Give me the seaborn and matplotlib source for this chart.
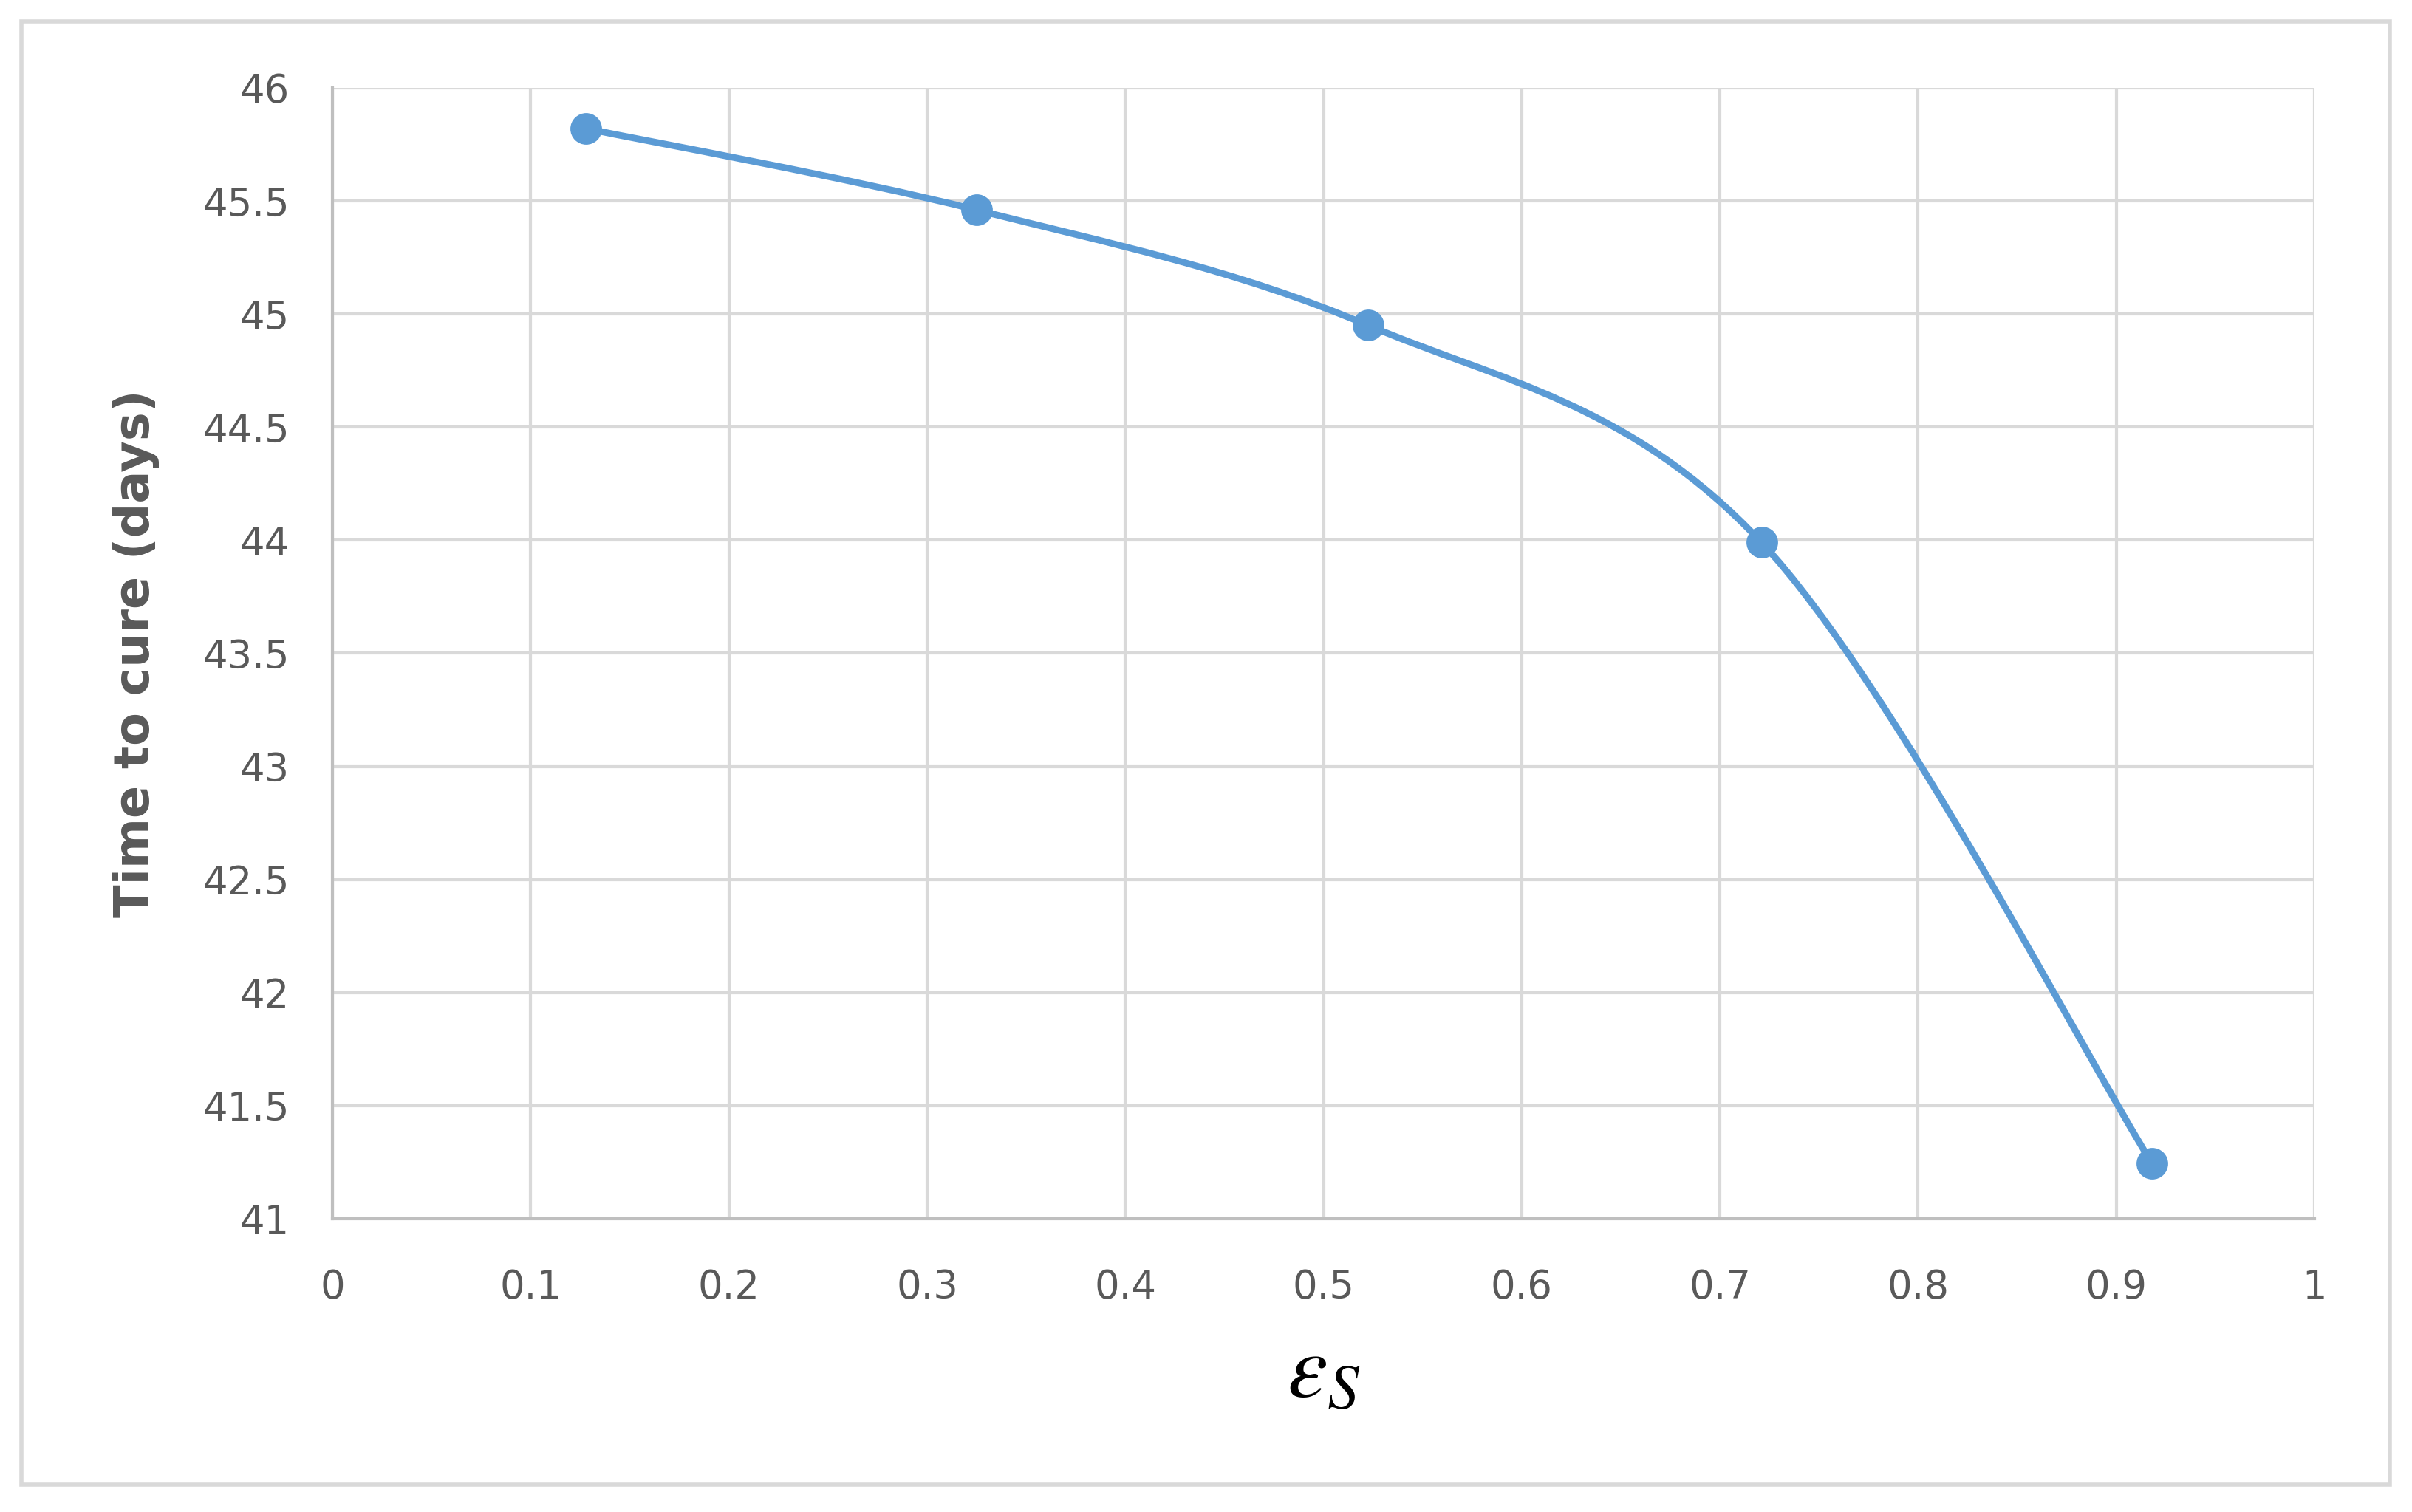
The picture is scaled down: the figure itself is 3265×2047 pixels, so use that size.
import numpy as np
import matplotlib
matplotlib.use("Agg")
import matplotlib.pyplot as plt
from matplotlib.path import Path
from matplotlib.patches import PathPatch, Rectangle
import seaborn as sns

# data
eps_s = [0.128, 0.325, 0.5225, 0.721, 0.918]
cure_days = [45.82, 45.46, 44.95, 43.99, 41.245]

x_ticks = [0, 0.1, 0.2, 0.3, 0.4, 0.5, 0.6, 0.7, 0.8, 0.9, 1]
x_labels = ["0", "0.1", "0.2", "0.3", "0.4", "0.5", "0.6", "0.7", "0.8", "0.9", "1"]
y_ticks = [41, 41.5, 42, 42.5, 43, 43.5, 44, 44.5, 45, 45.5, 46]
y_labels = ["41", "41.5", "42", "42.5", "43", "43.5", "44", "44.5", "45", "45.5", "46"]

blue = "#5b9bd5"
grid_c = "#d9d9d9"
text_c = "#595959"

sns.set_style("whitegrid")
plt.rcParams['font.family'] = ['DejaVu Sans']
plt.rcParams['mathtext.fontset'] = 'stix'

fig = plt.figure(figsize=(32.66, 20.47), dpi=100)
ax = fig.add_axes([0.1378, 0.194, 0.9593 - 0.1378, 0.9419 - 0.194])

# smoothed line like Excel (Catmull-Rom bezier through the points)
pts = np.column_stack([eps_s, cure_days])
verts = [pts[0]]
codes = [Path.MOVETO]
n = len(pts)
for i in range(n - 1):
    p0 = pts[max(i - 1, 0)]
    p1 = pts[i]
    p2 = pts[i + 1]
    p3 = pts[min(i + 2, n - 1)]
    c1 = p1 + (p2 - p0) / 6
    c2 = p2 - (p3 - p1) / 6
    verts += [c1, c2, p2]
    codes += [Path.CURVE4] * 3
ax.add_patch(PathPatch(Path(verts, codes), facecolor="none", edgecolor=blue,
                       lw=6.5, capstyle="round", joinstyle="round", zorder=3))

sns.scatterplot(x=eps_s, y=cure_days, ax=ax, color=blue, s=950,
                edgecolor=blue, linewidth=0, zorder=4, legend=False)

ax.set_xlim(0, 1)
ax.set_ylim(41, 46)
ax.set_xticks(x_ticks)
ax.set_xticklabels(x_labels)
ax.set_yticks(y_ticks)
ax.set_yticklabels(y_labels)
ax.grid(True, color=grid_c, lw=3)
for side in ["top", "right"]:
    ax.spines[side].set_visible(False)
for side in ["left", "bottom"]:
    ax.spines[side].set_color("#bfbfbf")
    ax.spines[side].set_linewidth(3)
ax.tick_params(axis="both", length=0, labelsize=38, labelcolor=text_c)
ax.tick_params(axis="x", pad=48)
ax.tick_params(axis="y", pad=42)

ax.set_ylabel("Time to cure (days)", fontsize=47, fontweight="bold",
              color=text_c, labelpad=42)
ax.set_xlabel(r"$\varepsilon_S$", fontsize=88, color="black", labelpad=22)

# outer chart border
fig.patches.append(Rectangle((29 / 3266, 1 - 2010 / 2047), (3235 - 29) / 3266,
                             (2010 - 29) / 2047, transform=fig.transFigure,
                             fill=False, edgecolor=grid_c, lw=4))

fig.savefig("out.png", dpi=100, facecolor="white")
